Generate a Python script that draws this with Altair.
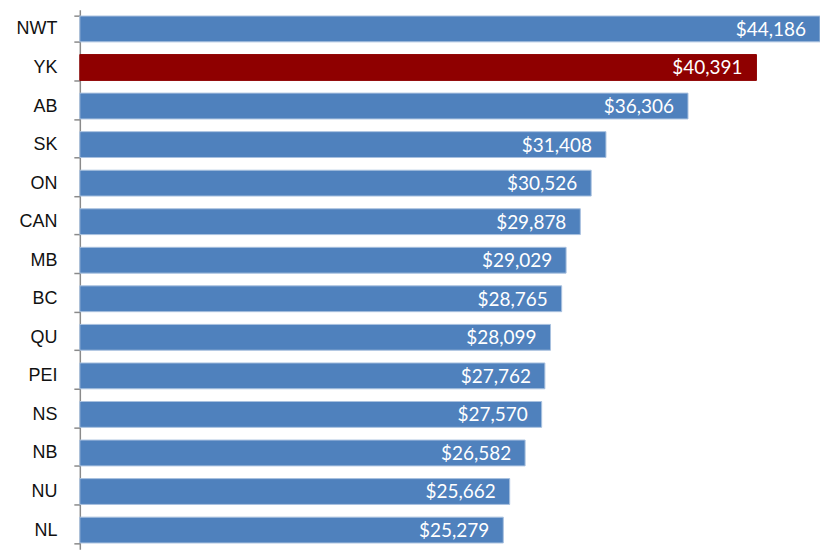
import altair as alt
import pandas as pd

regions = ["NWT", "YK", "AB", "SK", "ON", "CAN", "MB", "BC", "QU", "PEI", "NS", "NB", "NU", "NL"]
values = [44186, 40391, 36306, 31408, 30526, 29878, 29029, 28765, 28099, 27762, 27570, 26582, 25662, 25279]
highlight = "YK"

df = pd.DataFrame({"region": regions, "value": values})
df["label"] = df["value"].map(lambda v: "${:,}".format(v))
df["hl"] = df["region"].map(lambda r: "yes" if r == highlight else "no")

y_enc = alt.Y(
    "region:N",
    sort=regions,
    title=None,
    scale=alt.Scale(paddingInner=0.33, paddingOuter=0.165),
    axis=alt.Axis(
        tickBand="extent",
        tickExtra=True,
        tickSize=6,
        tickWidth=1.5,
        tickColor="#8a8a8a",
        domainColor="#8a8a8a",
        domainWidth=1.5,
        labelFont="Liberation Sans",
        labelFontSize=18,
        labelFontWeight="normal",
        labelColor="#111111",
        labelPadding=17,
        grid=False,
    ),
)
x_enc = alt.X("value:Q", axis=None, scale=alt.Scale(domain=[0, 44186], nice=False, zero=True))

bars = alt.Chart(df).mark_bar(strokeWidth=1).encode(
    y=y_enc,
    x=x_enc,
    color=alt.Color("hl:N", scale=alt.Scale(domain=["no", "yes"], range=["#4F81BD", "#8F0000"]), legend=None),
    stroke=alt.Stroke("hl:N", scale=alt.Scale(domain=["no", "yes"], range=["#A9C1DF", "#8F0000"]), legend=None),
)

text = alt.Chart(df).mark_text(
    align="right", baseline="middle", dx=-14, dy=1, color="white", font="Lato", fontSize=19
).encode(
    y=alt.Y("region:N", sort=regions),
    x=alt.X("value:Q"),
    text="label:N",
)

chart = (bars + text).properties(
    width=742,
    height=541,
    autosize=alt.AutoSizeParams(type="none"),
    padding={"left": 72, "top": 1, "right": 0, "bottom": 0},
).configure_view(stroke=None)

chart.save("out.html", embed_options={"renderer": "svg", "actions": False})
